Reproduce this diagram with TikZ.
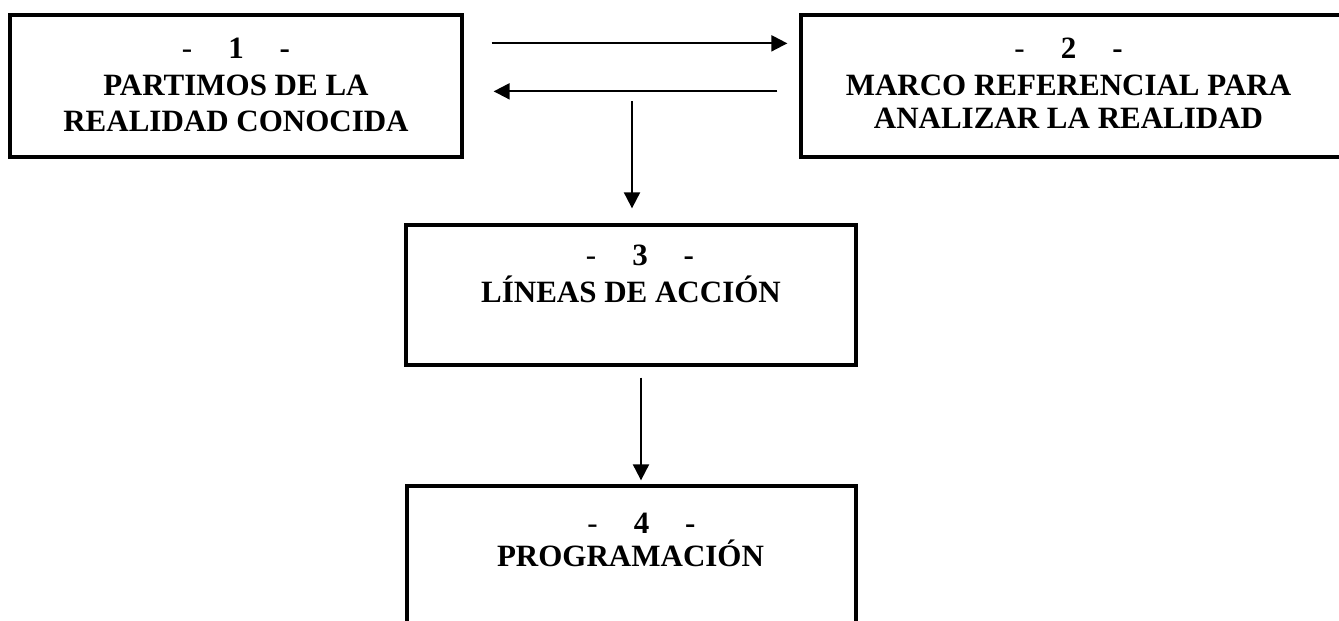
\documentclass[tikz,border=0pt]{standalone}
\usepackage{fontspec}
\setmainfont{Liberation Serif}
\usetikzlibrary{arrows.meta,calc}
\tikzset{
  box/.style={draw, line width=3.3pt, rectangle, inner sep=0pt},
  txt/.style={anchor=base, inner sep=0pt, font=\fontsize{31}{36}\selectfont\bfseries},
  arr/.style={line width=2pt, -{Triangle[length=16pt,width=16pt]}}
}
\newcommand{\numline}[1]{{\mdseries-}\hspace{36pt}#1\hspace{36pt}-}
\begin{document}
\begin{tikzpicture}[x=1pt,y=-1pt]
\useasboundingbox (0,0) rectangle (1339,621);
\clip (0,0) rectangle (1339,621);
\node[box, minimum width=452pt, minimum height=142pt] (b1) at (236,86) {};
\node[box, minimum width=559pt, minimum height=142pt] (b2) at (1080.5,86) {};
\node[box, minimum width=450pt, minimum height=140pt] (b3) at (631,295) {};
\node[box, minimum width=449pt, minimum height=180pt] (b4) at (631.5,576) {};
% texts
\node[txt] (t1a) at ($(b1.north)+(0,45)$) {\numline{1}};
\node[txt] (t1b) at ($(b1.north)+(0,82)$) {PARTIMOS DE LA};
\node[txt] (t1c) at ($(b1.north)+(0,118)$) {REALIDAD CONOCIDA};
\node[txt] (t2a) at ($(b2.north)+(-12,45)$) {\numline{2}};
\node[txt] (t2b) at ($(b2.north)+(-12,82)$) {MARCO REFERENCIAL PARA};
\node[txt] (t2c) at ($(b2.north)+(-12,115)$) {ANALIZAR LA REALIDAD};
\node[txt] (t3a) at ($(b3.north)+(9,42)$) {\numline{3}};
\node[txt] (t3b) at ($(b3.north)+(0,79)$) {LÍNEAS DE ACCIÓN};
\node[txt] (t4a) at ($(b4.north)+(10,49)$) {\numline{4}};
\node[txt] (t4b) at ($(b4.north)+(-1,82)$) {PROGRAMACIÓN};
% arrows
\draw[arr] ($(b1.north east)+(28,30)$) -- ($(b2.north west)+(-12,30)$);
\draw[arr] ($(b2.north west)+(-22,78)$) -- ($(b1.north east)+(30,78)$);
\draw[arr] ($(b3.north)+(1,-122)$) -- ($(b3.north)+(1,-15)$);
\draw[arr] ($(b3.south)+(10,11)$) -- ($(b4.north)+(9.5,-4)$);
\end{tikzpicture}
\end{document}
